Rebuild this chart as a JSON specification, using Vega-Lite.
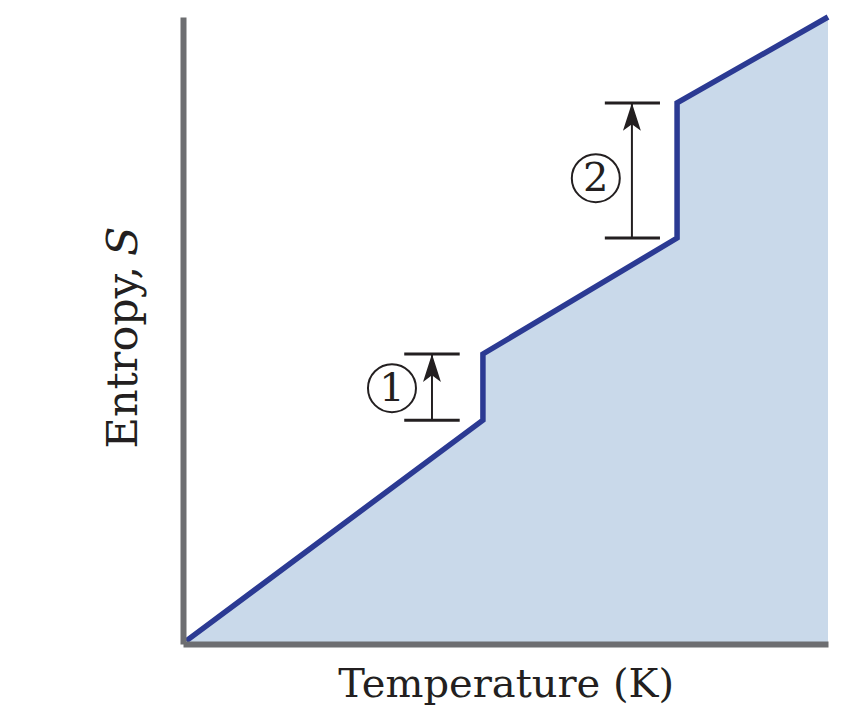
{
  "$schema": "https://vega.github.io/schema/vega-lite/v6.json",
  "width": 645,
  "height": 627,
  "autosize": {"type": "none"},
  "padding": {"left": 183, "top": 17, "right": 31, "bottom": 82},
  "background": "white",
  "config": {"view": {"stroke": null}},
  "datasets": {
    "curve": [
      {"i": 0, "T": 0.5, "S": 0.5},
      {"i": 1, "T": 46.5, "S": 35.7},
      {"i": 2, "T": 46.5, "S": 46.25},
      {"i": 3, "T": 76.6, "S": 64.75},
      {"i": 4, "T": 76.6, "S": 86.3},
      {"i": 5, "T": 100, "S": 100}
    ],
    "ticks": [
      {"x": 34.3, "x2": 42.9, "S": 35.7},
      {"x": 34.3, "x2": 42.9, "S": 46.25},
      {"x": 65.4, "x2": 73.95, "S": 64.75},
      {"x": 65.4, "x2": 73.95, "S": 86.3}
    ],
    "arrows": [
      {"T": 38.6, "S0": 35.7, "S1": 46.25},
      {"T": 69.6, "S0": 64.75, "S1": 86.3}
    ],
    "labels": [
      {"T": 32.4, "S": 40.8, "n": "1"},
      {"T": 64.0, "S": 74.3, "n": "2"}
    ],
    "xtitle": [{"T": 50.1, "S": -8.45, "t": "Temperature (K)"}],
    "ytitle": [{"T": -7.13, "S": 60.3, "a": "Entropy,", "b": "S"}]
  },
  "layer": [
    {
      "data": {"name": "curve"},
      "mark": {"type": "area", "color": "#c9d9ea", "interpolate": "linear", "opacity": 1},
      "encoding": {
        "x": {"field": "T", "type": "quantitative", "scale": {"domain": [0, 100], "nice": false, "zero": false},
          "axis": {"domain": true, "domainColor": "#6d6e71", "domainWidth": 6, "ticks": false, "labels": false, "grid": false, "title": null, "zindex": 1}},
        "y": {"field": "S", "type": "quantitative", "stack": null, "scale": {"domain": [0, 100], "nice": false},
          "axis": {"domain": true, "domainColor": "#6d6e71", "domainWidth": 6, "ticks": false, "labels": false, "grid": false, "title": null, "zindex": 1}},
        "y2": {"datum": 0}
      }
    },
    {
      "data": {"name": "curve"},
      "mark": {"type": "line", "color": "#2b3a93", "strokeWidth": 5.5, "strokeJoin": "miter", "strokeCap": "butt"},
      "encoding": {
        "x": {"field": "T", "type": "quantitative"},
        "y": {"field": "S", "type": "quantitative"},
        "order": {"field": "i", "type": "quantitative"}
      }
    },
    {
      "data": {"name": "ticks"},
      "mark": {"type": "rule", "color": "#231f20", "strokeWidth": 3},
      "encoding": {
        "x": {"field": "x", "type": "quantitative"},
        "x2": {"field": "x2"},
        "y": {"field": "S", "type": "quantitative"}
      }
    },
    {
      "data": {"name": "arrows"},
      "mark": {"type": "rule", "color": "#231f20", "strokeWidth": 2},
      "encoding": {
        "x": {"field": "T", "type": "quantitative"},
        "y": {"field": "S0", "type": "quantitative"},
        "y2": {"field": "S1"}
      }
    },
    {
      "data": {"name": "arrows"},
      "mark": {"type": "point", "shape": "M0,0L0.61,1.9L0,1.45L-0.61,1.9Z", "filled": true, "opacity": 1, "color": "#231f20", "size": 864},
      "encoding": {
        "x": {"field": "T", "type": "quantitative"},
        "y": {"field": "S1", "type": "quantitative"}
      }
    },
    {
      "data": {"name": "labels"},
      "mark": {"type": "point", "shape": "circle", "filled": false, "opacity": 1, "stroke": "#231f20", "strokeWidth": 2, "size": 2304},
      "encoding": {
        "x": {"field": "T", "type": "quantitative"},
        "y": {"field": "S", "type": "quantitative"}
      }
    },
    {
      "data": {"name": "labels"},
      "mark": {"type": "text", "font": "DejaVu Serif", "fontSize": 40, "color": "#231f20", "align": "center", "baseline": "middle", "dy": 1},
      "encoding": {
        "x": {"field": "T", "type": "quantitative"},
        "y": {"field": "S", "type": "quantitative"},
        "text": {"field": "n"}
      }
    },
    {
      "data": {"name": "xtitle"},
      "mark": {"type": "text", "font": "DejaVu Serif", "fontSize": 40, "color": "#231f20", "align": "center", "baseline": "alphabetic"},
      "encoding": {
        "x": {"field": "T", "type": "quantitative"},
        "y": {"field": "S", "type": "quantitative"},
        "text": {"field": "t"}
      }
    },
    {
      "data": {"name": "ytitle"},
      "mark": {"type": "text", "font": "DejaVu Serif", "fontSize": 43, "color": "#231f20", "align": "right", "baseline": "alphabetic", "angle": 270},
      "encoding": {
        "x": {"field": "T", "type": "quantitative"},
        "y": {"field": "S", "type": "quantitative"},
        "text": {"field": "a"}
      }
    },
    {
      "data": {"name": "ytitle"},
      "mark": {"type": "text", "font": "DejaVu Serif", "fontSize": 43, "fontStyle": "italic", "color": "#231f20", "align": "left", "baseline": "alphabetic", "angle": 270, "dx": 10},
      "encoding": {
        "x": {"field": "T", "type": "quantitative"},
        "y": {"field": "S", "type": "quantitative"},
        "text": {"field": "b"}
      }
    }
  ]
}
